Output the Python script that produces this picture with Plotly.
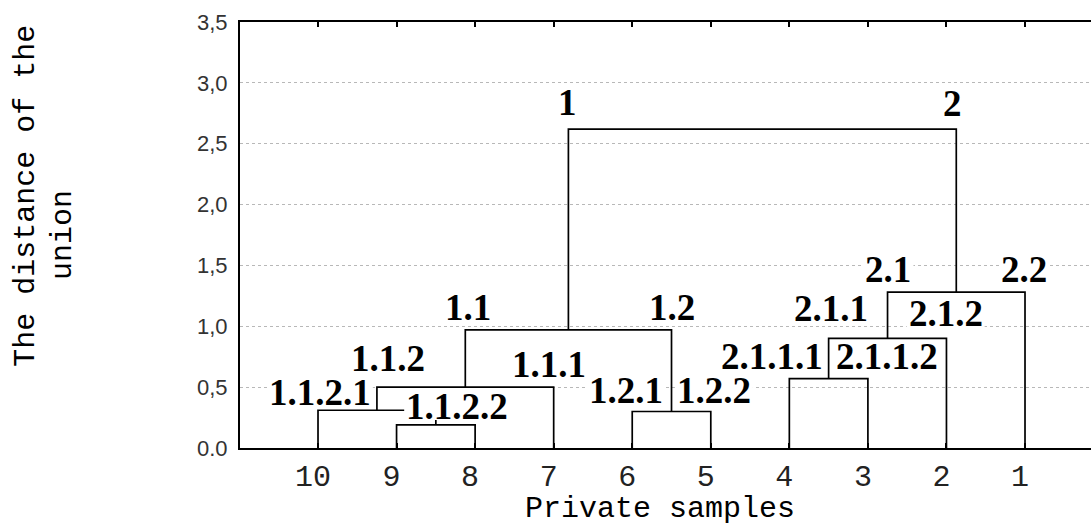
import plotly.graph_objects as go

# ---------------- data ----------------
leaf_labels = ["10", "9", "8", "7", "6", "5", "4", "3", "2", "1"]
# linkage: node ids 0..9 are leaves (in drawing order), 10.. are merges
merge_left = [1, 0, 11, 4, 12, 6, 15, 16, 14]
merge_right = [2, 10, 3, 5, 13, 7, 8, 9, 17]
merge_height = [0.19, 0.31, 0.50, 0.30, 0.97, 0.57, 0.90, 1.28, 2.62]

y_tickvals = [0, 0.5, 1.0, 1.5, 2.0, 2.5, 3.0, 3.5]
y_ticktext = ["0.0", "0,5", "1,0", "1,5", "2,0", "2,5", "3,0", "3,5"]

cluster_names = ["1", "2", "1.1", "1.2", "1.1.1", "1.1.2", "1.1.2.1", "1.1.2.2",
                 "1.2.1", "1.2.2", "2.1", "2.2", "2.1.1", "2.1.2", "2.1.1.1", "2.1.1.2"]
cluster_label_x = [3.18, 8.08, 1.91, 4.51, 2.94, 0.89, 0.025, 1.77,
                   3.92, 5.04, 7.26, 8.99, 6.53, 7.99, 5.78, 7.24]
cluster_label_y = [2.835, 2.83, 1.153, 1.153, 0.684, 0.734, 0.455, 0.345,
                   0.471, 0.471, 1.466, 1.466, 1.145, 1.104, 0.751, 0.751]

# ---------------- geometry helpers ----------------
X_RANGE = [-0.993, 9.84]
Y_RANGE = [0, 3.5]
W, H = 1091, 528
ML, MR, MT, MB = 240, 0, 22, 80
px_per_x = (W - ML - MR) / (X_RANGE[1] - X_RANGE[0])
px_per_y = (H - MT - MB) / (Y_RANGE[1] - Y_RANGE[0])
LABEL_SIZE = 37

n = len(leaf_labels)
node_x = {i: float(i) for i in range(n)}
node_h = {i: 0.0 for i in range(n)}
xs, ys = [], []
for k, (a, b, h) in enumerate(zip(merge_left, merge_right, merge_height)):
    nid = n + k
    xa, xb = node_x[a], node_x[b]
    xs += [xa, xa, xb, xb, None]
    ys += [node_h[a], h, h, node_h[b], None]
    node_x[nid] = (xa + xb) / 2
    node_h[nid] = h

fig = go.Figure()
fig.add_trace(go.Scatter(x=xs, y=ys, mode="lines",
                         line=dict(color="black", width=1.7),
                         hoverinfo="skip", showlegend=False))

serif = "Liberation Serif, Times New Roman, serif"
mono = "Courier New, Liberation Mono, monospace"
for name, lx, ly in zip(cluster_names, cluster_label_x, cluster_label_y):
    # tight white backing behind the glyphs (label text pasted over lines)
    n_dig = sum(c.isdigit() for c in name)
    n_dot = len(name) - n_dig
    half_w = ((n_dig * 0.5 + n_dot * 0.25) * LABEL_SIZE / 2 + 2) / px_per_x
    half_h = (0.70 * LABEL_SIZE / 2 + 1) / px_per_y
    fig.add_shape(type="rect", xref="x", yref="y", layer="above",
                  x0=lx - half_w, x1=lx + half_w, y0=ly - half_h, y1=ly + half_h,
                  fillcolor="white", line=dict(width=0))
    fig.add_annotation(x=lx, y=ly, xref="x", yref="y", text="<b>" + name + "</b>",
                       showarrow=False, xanchor="center", yanchor="middle",
                       font=dict(family=serif, size=LABEL_SIZE, color="black"))

# axis titles
fig.add_annotation(x=-0.2515, y=0.592, xref="paper", yref="paper",
                   text="The distance of the", textangle=-90, showarrow=False,
                   xanchor="center", yanchor="middle",
                   font=dict(family=mono, size=30, color="black"))
fig.add_annotation(x=-0.208, y=0.50, xref="paper", yref="paper",
                   text="union", textangle=-90, showarrow=False,
                   xanchor="center", yanchor="middle",
                   font=dict(family=mono, size=30, color="black"))
fig.add_annotation(x=0.4935, y=-0.143, xref="paper", yref="paper",
                   text="Private samples", showarrow=False,
                   xanchor="center", yanchor="middle",
                   font=dict(family=mono, size=30, color="black"))

fig.update_layout(
    width=W, height=H,
    margin=dict(l=ML, r=MR, t=MT, b=MB, autoexpand=False),
    paper_bgcolor="white", plot_bgcolor="white",
    showlegend=False,
    xaxis=dict(range=X_RANGE, tickmode="array",
               tickvals=list(range(n)), ticktext=leaf_labels,
               showgrid=False, zeroline=False, automargin=False,
               showline=True, linecolor="black", linewidth=2,
               mirror="ticks", ticks="inside", ticklen=5, tickwidth=1.5,
               tickcolor="black",
               tickfont=dict(family=mono, size=30, color="#222"),
               ticklabelstandoff=0, ticklabelshift=-5),
    yaxis=dict(range=Y_RANGE, tickmode="array",
               tickvals=y_tickvals, ticktext=y_ticktext, automargin=False,
               showgrid=True, gridcolor="#b8b8b8", gridwidth=1, griddash="3px,3px",
               zeroline=False, showline=True, linecolor="black", linewidth=2,
               ticks="", tickfont=dict(family="Liberation Sans, Arial, sans-serif",
                                       size=22, color="#333"),
               ticklabelstandoff=6),
)

fig.write_html("out.html", config={"displayModeBar": False},
               post_script="document.body.style.margin='0';"
                           "document.body.style.overflow='hidden';")
